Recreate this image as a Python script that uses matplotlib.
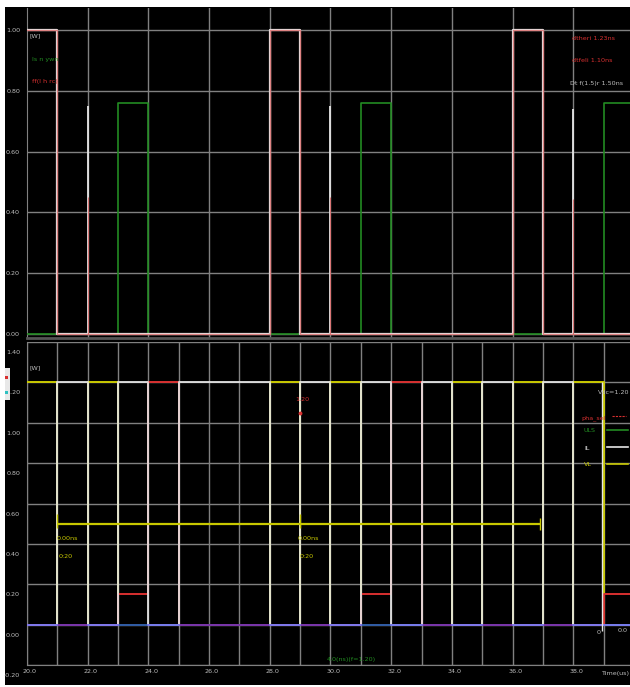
import matplotlib
matplotlib.use("Agg")
import matplotlib.pyplot as plt
from matplotlib.transforms import ScaledTranslation
from matplotlib.lines import Line2D
from matplotlib.patches import Rectangle

# ---------------- data ----------------
# time slots of 1 us, starting at t = 20 us
slot_t = [20, 21, 22, 23, 24, 25, 26, 27, 28, 29, 30, 31, 32, 33, 34, 35, 36, 37, 38, 39, 40]
t_min, t_max = 20.0, 39.87

# top panel
top_pulse = [1.0, 0, 0, 0, 0, 0, 0, 0, 1.0, 0, 0, 0, 0, 0, 0, 0, 1.0, 0, 0, 0]
top_green = [0, 0, 0, 0.76, 0, 0, 0, 0, 0, 0, 0, 0.76, 0, 0, 0, 0, 0, 0, 0, 0.76]
spike_t = [22.0, 30.0, 38.0]
spike_level = [0.75, 0.75, 0.74]
top_yticks = [0.0, 0.2, 0.4, 0.6, 0.8, 1.0]
top_ylabels = ["0.00", "0.20", "0.40", "0.60", "0.80", "1.00"]

# bottom panel
vl = [1.2, 0, 1.2, 0, 0, 0, 0, 0, 1.2, 0, 1.2, 0, 0, 0, 1.2, 0, 1.2, 0, 1.2, 0]
il = [0, 1.2, 0, 1.2, 0, 1.2, 1.2, 1.2, 0, 1.2, 0, 1.2, 0, 1.2, 0, 1.2, 0, 1.2, 0, 0]
pha = [0, 0, 0, 0.15, 1.2, 0, 0, 0, 0, 0, 0, 0.15, 1.2, 0, 0, 0, 0, 0, 0, 0.15]
uls = [0, 0, 0, 0, 0, 0, 0, 0, 0, 0, 0, 0, 0, 0, 0, 0, 0, 0, 0, 0]
base = [0, 0, 0, 0, 0, 0, 0, 0, 0, 0, 0, 0, 0, 0, 0, 0, 0, 0, 0, 0]
bot_yticks = [-0.2, 0.0, 0.2, 0.4, 0.6, 0.8, 1.0, 1.2, 1.4]
bot_ylabels = ["-0.20", "0.00", "0.20", "0.40", "0.60", "0.80", "1.00", "1.20", "1.40"]
bot_xticks = [20, 22, 24, 26, 28, 30, 32, 34, 36, 38]
bot_xlabels = ["20.0", "22.0", "24.0", "26.0", "28.0", "30.0", "32.0", "34.0", "36.0", "38.0"]
marker_t = [21.0, 29.0]
marker_end = 36.9
marker_level = 0.50
cursor_t = 38.95
cursor_val = 1.20
readout_t = 28.98
readout_val = 1.05

# ---------------- figure ----------------
W, H = 630, 687
fig = plt.figure(figsize=(W / 100, H / 100), dpi=100, facecolor="white")

def fx(px):
    return px / W

def fy(py):
    return 1 - py / H

fig.patches.append(Rectangle((fx(5), fy(685)), 1, (685 - 7) / H,
                             transform=fig.transFigure, facecolor="black",
                             edgecolor="none", zorder=-10))

GRID = "#808080"
TXT = "#bdbdbd"
RED = "#d83030"
GREEN = "#228b22"
YEL = "#c8c800"
WHITE = "#e6e6e6"
BLUE = "#3838ff"
FS = 4.6

def steps(vals):
    return vals + [vals[-1]]

# ---- top panel ----
ax1 = fig.add_axes([fx(27), fy(338), (W - 27) / W, (338 - 8) / H])
ax1.set_facecolor("black")
ax1.set_xlim(t_min, t_max)
ax1.set_ylim(-0.0132, 1.0724)
ax1.set_xticks([22, 24, 26, 28, 30, 32, 34, 36, 38])
ax1.set_yticks(top_yticks)
ax1.set_yticklabels(top_ylabels, color=TXT, fontsize=FS)
ax1.tick_params(length=0, labelbottom=False, pad=5)
ax1.grid(True, color=GRID, lw=1.0)
for s in ["top", "right"]:
    ax1.spines[s].set_visible(False)
ax1.spines["left"].set_color(GRID)
ax1.spines["bottom"].set_color("#555555")
ax1.spines["bottom"].set_linewidth(2)
ax1.set_axisbelow(True)

ax1.step(slot_t, steps(top_green), where="post", color=GREEN, lw=1.2, zorder=3)
ax1.step(slot_t, steps(top_pulse), where="post", color=WHITE, lw=1.6, zorder=4)
ax1.step(slot_t, steps(top_pulse), where="post", color=RED, lw=1.0, alpha=0.55, zorder=5)
ax1.vlines(spike_t, 0, spike_level, color=WHITE, lw=1.3, zorder=4)
ax1.vlines(spike_t, 0, [v * 0.6 for v in spike_level], color=RED, lw=0.8, alpha=0.6, zorder=5)

fig.text(fx(30), fy(36), "[W]", color=TXT, fontsize=FS, va="center")
fig.text(fx(32), fy(60), "Is n ywn", color=GREEN, fontsize=FS, va="center")
fig.text(fx(32), fy(82), "ff(l h rc)", color=RED, fontsize=FS, va="center")
fig.text(fx(572), fy(38), "dtheri 1.23ns", color=RED, fontsize=FS, va="center")
fig.text(fx(572), fy(60), "dtfeli 1.10ns", color=RED, fontsize=FS, va="center")
fig.text(fx(570), fy(83), "Dt f(1.5)r 1.50ns", color=TXT, fontsize=FS, va="center")

# ---- bottom panel ----
ax2 = fig.add_axes([fx(27), fy(665), (W - 27) / W, (665 - 342) / H])
ax2.set_facecolor("black")
ax2.set_xlim(t_min, t_max)
ax2.set_ylim(-0.2, 1.4)
ax2.set_xticks(bot_xticks)
ax2.set_xticklabels(bot_xlabels, color=TXT, fontsize=FS)
ax2.set_xticks(slot_t[1:-1:2], minor=True)
ax2.set_yticks(bot_yticks)
ax2.set_yticklabels(bot_ylabels, color=TXT, fontsize=FS)
ax2.tick_params(which="both", length=0)
ax2.tick_params(axis="y", pad=5)
ax2.tick_params(axis="x", pad=3)
ax2.grid(True, which="both", color=GRID, lw=1.0)
for s in ["top", "right"]:
    ax2.spines[s].set_visible(False)
ax2.spines["left"].set_color(GRID)
ax2.spines["bottom"].set_color(GRID)
ax2.set_axisbelow(True)
off = ScaledTranslation(0, -0.10, fig.dpi_scale_trans)
for lbl in ax2.get_yticklabels():
    lbl.set_transform(lbl.get_transform() + off)
offx = ScaledTranslation(0.03, 0, fig.dpi_scale_trans)
for lbl in ax2.get_xticklabels():
    lbl.set_transform(lbl.get_transform() + offx)

ax2.step(slot_t, steps(vl), where="post", color=YEL, lw=1.4, zorder=3)
ax2.step(slot_t, steps(uls), where="post", color=GREEN, lw=1.4, zorder=3)
ax2.step(slot_t, steps(pha), where="post", color=RED, lw=1.4, zorder=4)
ax2.step(slot_t, steps(il), where="post", color=WHITE, lw=1.4, alpha=0.9, zorder=5)
ax2.step(slot_t, steps(base), where="post", color=BLUE, lw=1.4, alpha=0.6, zorder=6)

# measurement marker
ax2.hlines(marker_level, marker_t[0], marker_end, color=YEL, lw=1.6, zorder=6)
ax2.vlines(marker_t, marker_level - 0.02, marker_level + 0.05, color=YEL, lw=1.0, zorder=6)
ax2.vlines([marker_end], marker_level - 0.03, marker_level + 0.03, color=YEL, lw=1.0, zorder=6)
# cursor
ax2.vlines([cursor_t], -0.03, cursor_val, color=WHITE, lw=1.0, zorder=7)
ax2.plot([readout_t], [readout_val], "o", color=RED, ms=1.8, zorder=7)

fig.text(fx(57), fy(538), "0.00ns", color=YEL, fontsize=FS, va="center")
fig.text(fx(59), fy(556), "0:20", color=YEL, fontsize=FS, va="center")
fig.text(fx(298), fy(538), "0.00ns", color=YEL, fontsize=FS, va="center")
fig.text(fx(300), fy(556), "0:20", color=YEL, fontsize=FS, va="center")
fig.text(fx(295), fy(400), "1.20", color=RED, fontsize=FS, va="center")
fig.text(fx(29), fy(368), "[W]", color=TXT, fontsize=FS, va="center")
fig.text(fx(598), fy(392), "Vdc=1.20", color=TXT, fontsize=FS, va="center")
fig.text(fx(597), fy(632), "0", color=TXT, fontsize=FS, va="center")
fig.text(fx(618), fy(630), "0.0", color=TXT, fontsize=FS, va="center")
fig.text(fx(327), fy(660), "4.0(ns)(f=1.20)", color=GREEN, fontsize=FS, va="center")
fig.text(fx(629), fy(673), "Time(us)", color=TXT, fontsize=FS, va="center", ha="right")

# legend
fig.text(fx(581), fy(418), "pha_sel", color=RED, fontsize=FS, va="center")
fig.add_artist(Line2D([fx(612), fx(626)], [fy(416), fy(416)], color=RED, lw=0.8,
                      ls=(0, (2, 1)), transform=fig.transFigure))
leg = [("ULS", GREEN, 431), ("IL", WHITE, 448), ("VL", YEL, 465)]
for name, col, py in leg:
    fig.text(fx(584), fy(py), name, color=col, fontsize=FS, va="center")
    fig.add_artist(Line2D([fx(607), fx(628)], [fy(py - 1), fy(py - 1)], color=col,
                          lw=1.2, transform=fig.transFigure))

# small side widget
fig.patches.append(Rectangle((fx(5), fy(400)), 5 / W, 32 / H, transform=fig.transFigure,
                             facecolor="#e8e8e8", edgecolor="none", zorder=5))
fig.patches.append(Rectangle((fx(5), fy(379)), 3 / W, 3 / H, transform=fig.transFigure,
                             facecolor=RED, edgecolor="none", zorder=6))
fig.patches.append(Rectangle((fx(5), fy(394)), 3 / W, 3 / H, transform=fig.transFigure,
                             facecolor="#30c0c0", edgecolor="none", zorder=6))

fig.savefig("out.png", dpi=100, facecolor="white")
